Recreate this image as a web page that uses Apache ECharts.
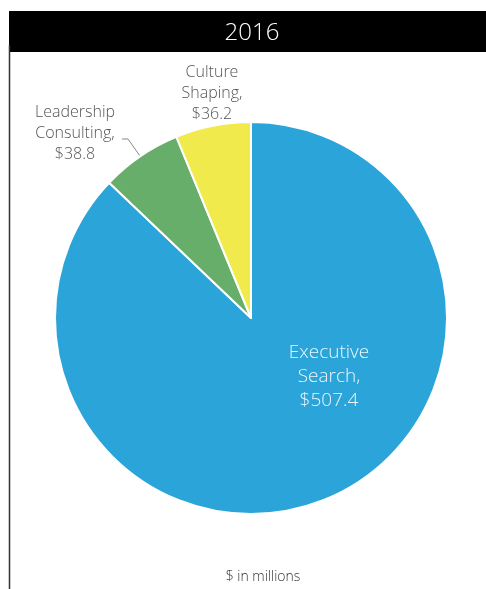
<!DOCTYPE html>
<html>
<head>
<meta charset="utf-8">
<style>
  html, body { margin: 0; padding: 0; background: #fff; }
  #chart { width: 486px; height: 589px; }
</style>
<script src="https://cdn.jsdelivr.net/npm/echarts@6/dist/echarts.min.js"></script>
</head>
<body>
<div id="chart"></div>
<script>
// Revenue by segment, 2016 ($ in millions)
var yearLabel = '2016';
var segments = ['Executive Search', 'Leadership Consulting', 'Culture Shaping'];
var revenue = [507.4, 38.8, 36.2];
var unitNote = '$ in millions';

var sliceColors = ['#2ba5d9', '#68ae6b', '#f1ea4c'];
var FONT = '"Open Sans", "Noto Sans", sans-serif';

var labelText = {
  'Executive Search': 'Executive\nSearch,\n',
  'Leadership Consulting': 'Leadership\nConsulting,\n',
  'Culture Shaping': 'Culture\nShaping,\n'
};

var chart = echarts.init(document.getElementById('chart'), null, { renderer: 'canvas' });

var pieData = segments.map(function (name, i) {
  var item = {
    name: name,
    value: revenue[i],
    itemStyle: { color: sliceColors[i] }
  };
  if (i === 0) {
    item.label = {
      position: 'inside',
      color: '#eaf6fc',
      fontSize: 19,
      lineHeight: 24
    };
  }
  return item;
});

chart.setOption({
  animation: false,
  graphic: [
    {
      type: 'rect',
      shape: { x: 9, y: 11, width: 477, height: 41 },
      style: { fill: '#000' }
    },
    {
      type: 'text',
      x: 252, y: 33,
      style: {
        text: yearLabel,
        fill: '#fff',
        font: '300 24px ' + FONT,
        align: 'center',
        verticalAlign: 'middle'
      }
    },
    {
      type: 'line',
      shape: { x1: 9.5, y1: 45, x2: 9.5, y2: 589 },
      style: { stroke: '#333', lineWidth: 1.5 }
    },
    {
      type: 'text',
      x: 263, y: 577,
      style: {
        text: unitNote,
        fill: '#333',
        font: '300 14px ' + FONT,
        align: 'center',
        verticalAlign: 'middle'
      }
    }
  ],
  series: [{
    type: 'pie',
    center: [251, 318],
    radius: 196,
    startAngle: 90,
    clockwise: true,
    avoidLabelOverlap: false,
    itemStyle: { borderColor: '#fff', borderWidth: 2 },
    label: {
      show: true,
      position: 'outside',
      fontFamily: FONT,
      fontWeight: 300,
      fontSize: 16,
      lineHeight: 21,
      color: '#555',
      align: 'center',
      formatter: function (p) {
        return labelText[p.name] + '$' + p.value.toFixed(1);
      }
    },
    labelLine: {
      show: true,
      length: 8,
      length2: 6,
      lineStyle: { color: '#888', width: 1 }
    },
    labelLayout: function (p) {
      if (p.dataIndex === 0) {
        return { x: 329, y: 377, align: 'center', verticalAlign: 'middle' };
      }
      if (p.dataIndex === 1) {
        return {
          x: 75, y: 133, align: 'center', verticalAlign: 'middle',
          labelLinePoints: [[140, 156], [128, 139], [122, 139]]
        };
      }
      return {
        x: 212, y: 93, align: 'center', verticalAlign: 'middle',
        labelLinePoints: [[0, 0], [0, 0], [0, 0]]
      };
    },
    emphasis: { disabled: true },
    data: pieData
  }]
});
</script>
</body>
</html>
